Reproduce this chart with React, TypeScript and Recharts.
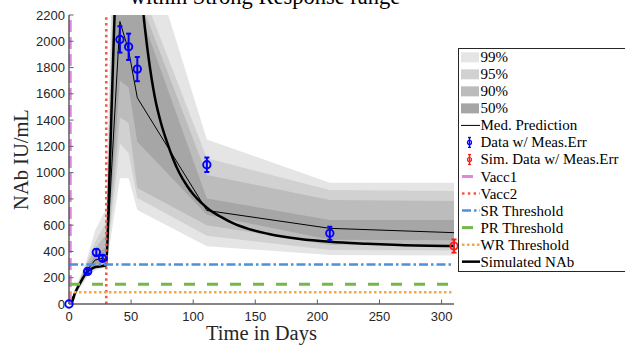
import React from 'react';
import { ComposedChart, Area, Line, Scatter, ErrorBar, XAxis, YAxis, ReferenceLine, Label } from 'recharts';

// knots of the prediction bands (days)
const DAYS = [0, 14, 21, 28, 30, 41, 48, 55, 111, 210, 310];
const LO99 = [0, 195, 255, 275, 280, 957, 957, 715, 440, 373, 370];
const HI99 = [0, 330, 560, 690, 720, 5200, 4200, 2960, 1253, 923, 923];
const LO95 = [0, 210, 265, 285, 290, 1223, 1150, 806, 520, 411, 408];
const HI95 = [0, 310, 470, 590, 620, 4600, 3500, 2480, 1109, 868, 860];
const LO90 = [0, 220, 275, 295, 300, 1420, 1380, 883, 600, 449, 445];
const HI90 = [0, 295, 420, 510, 530, 4000, 3100, 2370, 982, 791, 785];
const LO50 = [0, 235, 300, 315, 320, 1700, 1650, 1235, 680, 490, 485];
const HI50 = [0, 270, 370, 420, 440, 3300, 2700, 2280, 804, 639, 639];
const MEDIAN = [0, 250, 335, 350, 300, 2150, 1930, 1570, 712, 576, 543];

// simulated NAb curve
const SIM_DAYS = [0, 2, 5, 9, 12, 15, 18, 22, 26, 30, 32, 34, 36, 38, 41, 45, 50, 55, 60, 64, 69, 74, 79, 84, 89, 95, 100, 106, 113, 122, 132, 145, 160, 186, 210, 240, 266, 310];
const SIM_NAB = [0, 8, 85, 160, 210, 248, 268, 283, 288, 295, 800, 1400, 2000, 2550, 3000, 3250, 3100, 2700, 2200, 1880, 1580, 1380, 1230, 1100, 995, 900, 835, 775, 718, 665, 615, 570, 535, 495, 474, 459, 449, 441];

// measurements
const MEAS_DAYS = [0, 15, 22, 27, 41, 48, 55, 111, 210];
const MEAS_VALS = [0, 248, 393, 348, 2014, 1958, 1788, 1060, 538];
const MEAS_ERR = [0, 15, 25, 22, 100, 100, 92, 55, 50];
const SIMMEAS_DAYS = [310];
const SIMMEAS_VALS = [441];
const SIMMEAS_ERR = [50];

const VACC_DAYS = [1, 30];
const THRESHOLDS = [300, 150, 90]; // SR, PR, WR

const X_TICKS = [0, 50, 100, 150, 200, 250, 300];
const Y_TICKS = [0, 200, 400, 600, 800, 1000, 1200, 1400, 1600, 1800, 2000, 2200];

const bandData = DAYS.map((day, i) => ({
  day,
  b99: [LO99[i], HI99[i]],
  b95: [LO95[i], HI95[i]],
  b90: [LO90[i], HI90[i]],
  b50: [LO50[i], HI50[i]],
  med: MEDIAN[i],
}));
const simData = SIM_DAYS.map((day, i) => ({ day, v: SIM_NAB[i] }));
const measData = MEAS_DAYS.map((day, i) => ({ day, val: MEAS_VALS[i], err: MEAS_ERR[i] }));
const simMeasData = SIMMEAS_DAYS.map((day, i) => ({ day, val: SIMMEAS_VALS[i], err: SIMMEAS_ERR[i] }));

const C99 = '#e5e5e5';
const C95 = '#d1d1d1';
const C90 = '#bcbcbc';
const C50 = '#a6a6a6';
const AXIS = '#5f5f5f';
const BLUE = '#0000ff';
const RED = '#ff1a1a';
const PINK = '#dd88dd';
const VRED = '#f4584a';
const SRBLUE = '#4a92e0';
const PRGREEN = '#74b84a';
const WRORANGE = '#f6a93f';

const SERIF = '"Liberation Serif", "Times New Roman", serif';
const SANS = '"Liberation Sans", Arial, sans-serif';
const tickFont = { fontFamily: SANS, fontSize: 13, fill: '#262626' };

const circleShape = (color: string) => (props: any) => (
  <circle cx={props.cx} cy={props.cy} r={3.7} fill="none" stroke={color} strokeWidth={1.9} />
);

const xLabel = (props: any) => {
  const vb = props.viewBox;
  return (
    <text x={vb.x + vb.width / 2} y={vb.y + vb.height - 7} textAnchor="middle" fontFamily={SERIF} fontSize={20.5} fill="#262626">
      Time in Days
    </text>
  );
};

const yLabel = (props: any) => {
  const vb = props.viewBox;
  const cx = vb.x + 8;
  const cy = vb.y + vb.height / 2;
  return (
    <text x={cx} y={cy} transform={`rotate(-90 ${cx} ${cy})`} textAnchor="middle" fontFamily={SERIF} fontSize={20.5} fill="#262626">
      NAb IU/mL
    </text>
  );
};

const LEGEND = [
  '99%', '95%', '90%', '50%', 'Med.  Prediction', 'Data w/ Meas.Err', 'Sim. Data w/ Meas.Err',
  'Vacc1', 'Vacc2', 'SR Threshold', 'PR Threshold', 'WR Threshold', 'Simulated NAb',
];

function LegendSymbol({ i, y }: { i: number; y: number }) {
  const x0 = 461, x1 = 480;
  if (i < 4) {
    const fills = [C99, C95, C90, C50];
    return <rect x={x0} y={y - 5} width={18} height={10} fill={fills[i]} />;
  }
  if (i === 4) return <line x1={x0} x2={x1} y1={y} y2={y} stroke="#000" strokeWidth={1} />;
  if (i === 5 || i === 6) {
    const c = i === 5 ? BLUE : RED;
    return (
      <g>
        <line x1={469.5} x2={469.5} y1={y - 5} y2={y + 5} stroke={c} strokeWidth={1.5} />
        <line x1={468} x2={471} y1={y - 5} y2={y - 5} stroke={c} strokeWidth={1.2} />
        <line x1={468} x2={471} y1={y + 5} y2={y + 5} stroke={c} strokeWidth={1.2} />
        <circle cx={469.5} cy={y} r={2} fill="none" stroke={c} strokeWidth={1.2} />
      </g>
    );
  }
  const styles: any[] = [
    { stroke: PINK, dash: '11 20', w: 3 },
    { stroke: VRED, dash: '2.5 3.3', w: 2.5 },
    { stroke: SRBLUE, dash: '9 3 2.5 3', w: 2.5 },
    { stroke: PRGREEN, dash: '11 12', w: 3 },
    { stroke: WRORANGE, dash: '2.5 2.5', w: 2.5 },
    { stroke: '#000', dash: undefined, w: 2.5 },
  ];
  const s = styles[i - 7];
  return <line x1={x0 + 1} x2={x1} y1={y} y2={y} stroke={s.stroke} strokeWidth={s.w} strokeDasharray={s.dash} />;
}

export default function App() {
  return (
    <div style={{ position: 'absolute', left: 0, top: 0, width: 625, height: 347, overflow: 'hidden', background: '#fff' }}>
      <ComposedChart width={625} height={347} margin={{ top: 15, right: 171, bottom: 0, left: 20 }}>
        <XAxis
          dataKey="day"
          type="number"
          domain={[0, 310]}
          ticks={X_TICKS}
          interval={0}
          height={43}
          tickSize={-4.5}
          tickMargin={12}
          tick={tickFont}
          axisLine={{ stroke: AXIS, strokeWidth: 1.5 }}
          tickLine={{ stroke: AXIS }}
        >
          <Label content={xLabel} />
        </XAxis>
        <XAxis
          xAxisId="top"
          orientation="top"
          type="number"
          domain={[0, 310]}
          ticks={X_TICKS}
          interval={0}
          height={0}
          tick={false}
          tickSize={-4.5}
          allowDataOverflow
          axisLine={{ stroke: '#333', strokeWidth: 1.2 }}
          tickLine={{ stroke: AXIS }}
        />
        <YAxis
          type="number"
          domain={[0, 2200]}
          ticks={Y_TICKS}
          interval={0}
          allowDataOverflow
          width={49}
          tickSize={-4.5}
          tickMargin={8.5}
          tick={tickFont}
          axisLine={{ stroke: AXIS, strokeWidth: 1.5 }}
          tickLine={{ stroke: AXIS }}
        >
          <Label content={yLabel} />
        </YAxis>
        <YAxis
          yAxisId="r"
          orientation="right"
          type="number"
          domain={[0, 2200]}
          ticks={Y_TICKS}
          interval={0}
          width={0}
          tick={false}
          tickSize={-4.5}
          axisLine={{ stroke: AXIS, strokeWidth: 1.5 }}
          tickLine={{ stroke: AXIS }}
        />

        <Area data={bandData} dataKey="b99" type="linear" fill={C99} fillOpacity={1} stroke="none" isAnimationActive={false} />
        <Area data={bandData} dataKey="b95" type="linear" fill={C95} fillOpacity={1} stroke="none" isAnimationActive={false} />
        <Area data={bandData} dataKey="b90" type="linear" fill={C90} fillOpacity={1} stroke="none" isAnimationActive={false} />
        <Area data={bandData} dataKey="b50" type="linear" fill={C50} fillOpacity={1} stroke="none" isAnimationActive={false} />

        <Line data={bandData} dataKey="med" type="linear" stroke="#000" strokeWidth={1} dot={false} isAnimationActive={false} />
        <Line data={simData} dataKey="v" type="monotone" stroke="#000" strokeWidth={2.5} dot={false} isAnimationActive={false} />

        <ReferenceLine x={VACC_DAYS[0]} stroke={PINK} strokeWidth={3} strokeDasharray="12 5" />
        <ReferenceLine x={VACC_DAYS[1]} stroke={VRED} strokeWidth={2.6} strokeDasharray="2.5 3.3" />
        <ReferenceLine y={THRESHOLDS[0]} stroke={SRBLUE} strokeWidth={2.5} strokeDasharray="9 3 2.5 3" />
        <ReferenceLine y={THRESHOLDS[1]} stroke={PRGREEN} strokeWidth={3} strokeDasharray="11 12" />
        <ReferenceLine y={THRESHOLDS[2]} stroke={WRORANGE} strokeWidth={2.5} strokeDasharray="2.5 2.5" />

        <Scatter data={measData} dataKey="val" yAxisId="r" shape={circleShape(BLUE)} isAnimationActive={false}>
          <ErrorBar dataKey="err" direction="y" width={2.5} stroke={BLUE} strokeWidth={2} />
        </Scatter>
        <Scatter data={simMeasData} dataKey="val" yAxisId="r" shape={circleShape(RED)} isAnimationActive={false}>
          <ErrorBar dataKey="err" direction="y" width={2.5} stroke={RED} strokeWidth={2} />
        </Scatter>
      </ComposedChart>

      <svg width={625} height={347} style={{ position: 'absolute', left: 0, top: 0, pointerEvents: 'none' }}>
        <text x={265} y={4} textAnchor="middle" fontFamily={SERIF} fontSize={22.5} fill="#000">
          within Strong Response range
        </text>
        <rect x={458.5} y={48.5} width={200} height={223} fill="#fff" stroke="#262626" strokeWidth={1} />
        {LEGEND.map((label, i) => {
          const y = 57.3 + i * 17.03;
          return (
            <g key={label}>
              <LegendSymbol i={i} y={y} />
              <text x={480.5} y={y + 5} fontFamily={SERIF} fontSize={15} fill="#000">
                {label}
              </text>
            </g>
          );
        })}
      </svg>
    </div>
  );
}
